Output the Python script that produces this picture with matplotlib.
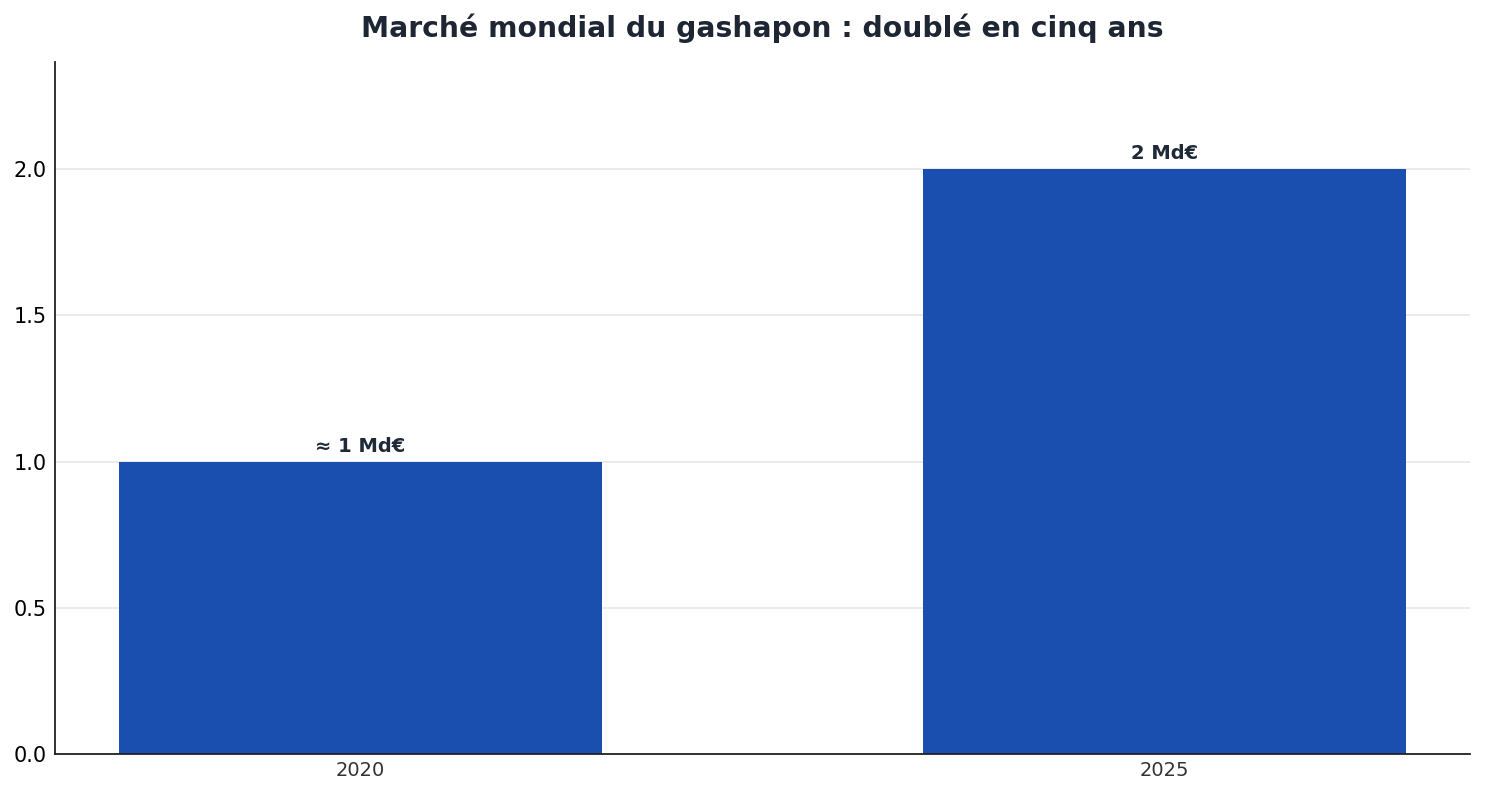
import matplotlib
matplotlib.use("Agg")
import matplotlib.pyplot as plt

years = ["2020", "2025"]
values = [1.0, 2.0]
labels = ["≈ 1 Md€", "2 Md€"]

fig = plt.figure(figsize=(14.85, 7.95), dpi=100)
ax = fig.add_axes([55 / 1485, 41 / 795, 1415 / 1485, 692 / 795])

bars = ax.bar(range(len(years)), values, width=0.6, color="#1a4fb0", zorder=2)
for b, lab in zip(bars, labels):
    ax.text(b.get_x() + b.get_width() / 2, b.get_height() + 0.02, lab,
            ha="center", va="bottom", fontsize=14, fontweight="bold", color="#1f2937")

ax.set_ylim(0, 2.366)
ax.set_yticks([0, 0.5, 1.0, 1.5, 2.0])
ax.set_xticks(range(len(years)))
ax.set_xticklabels(years, fontsize=14, color="#333333")
ax.tick_params(axis="y", labelsize=15, length=0, pad=6)
ax.tick_params(axis="x", length=0, pad=5)
ax.grid(axis="y", color="#e5e7eb", linewidth=1.2, zorder=0)
ax.set_axisbelow(True)
for s in ["top", "right"]:
    ax.spines[s].set_visible(False)
for s in ["left", "bottom"]:
    ax.spines[s].set_color("#222222")
    ax.spines[s].set_linewidth(1.3)

ax.set_title("Marché mondial du gashapon : doublé en cinq ans", fontsize=20.3,
             fontweight="bold", color="#1e2633", pad=18)

fig.savefig("out.png", dpi=100)
